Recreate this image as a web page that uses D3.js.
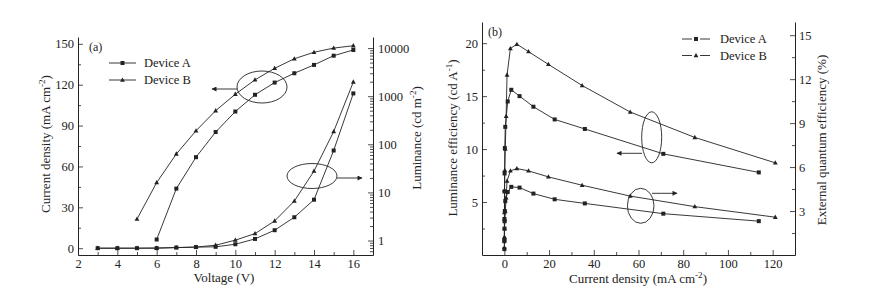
<!DOCTYPE html>
<html>
<head>
<meta charset="utf-8">
<script src="https://cdn.jsdelivr.net/npm/d3@7"></script>
<style>
  body { margin: 0; background: #fff; }
  svg, svg text { font-family: "Liberation Serif", "Times New Roman", serif; }
  .tick text { font-size: 12.5px; fill: #222; font-family: "Liberation Serif", "Times New Roman", serif; }
  .domain, .tick line { stroke: #222; }
</style>
</head>
<body>
<div id="chart"></div>
<script>
// panel (a) data
const voltsJ = [3, 4, 5, 6, 7, 8, 9, 10, 11, 12, 13, 14, 15, 16];
const currentA = [0, 0, 0, 0.05, 0.5, 0.8, 1.0, 2.9, 6.8, 13.2, 22.7, 35.6, 71.7, 113.6];
const currentB = [0, 0, 0, 0.1, 0.4, 0.8, 2.2, 5.9, 10.7, 20.0, 34.6, 56.6, 85.6, 122.0];
const voltsLA = [6, 7, 8, 9, 10, 11, 12, 13, 14, 15, 16];
const lumA = [1.05, 12, 54, 180, 480, 1070, 1920, 3000, 4470, 6950, 9140];
const voltsLB = [5, 6, 7, 8, 9, 10, 11, 12, 13, 14, 15, 16];
const lumB = [2.8, 16, 63, 191, 500, 1100, 2190, 3800, 6000, 8200, 10000, 11200];

// panel (b) data
const effJA = [0.01, 0.03, 0.06, 0.1, 0.2, 0.4, 1.5, 3.1, 6.8, 13.0, 22.5, 36.0, 71.1, 113.8];
const leA = [1.3, 3.4, 6.0, 7.7, 10.1, 12.1, 14.5, 15.6, 15.0, 14.0, 12.8, 11.9, 9.55, 7.8];
const eqeA = [0.4, 1.0, 1.8, 2.3, 3.0, 3.68, 4.3, 4.65, 4.6, 4.19, 3.8, 3.52, 2.82, 2.31];
const effJB = [0.02, 0.05, 0.1, 0.2, 0.4, 0.8, 1.2, 2.7, 5.6, 10.8, 19.7, 34.8, 56.3, 85.2, 121.2];
const leB = [1.7, 4.0, 6.1, 8.0, 10.0, 13.1, 17.0, 19.5, 19.9, 19.2, 18.0, 16.0, 13.5, 11.1, 8.7];
const eqeB = [0.5, 1.2, 1.8, 2.4, 3.0, 3.9, 5.05, 5.74, 5.9, 5.74, 5.33, 4.76, 4.02, 3.3, 2.58];

const seriesNames = ["Device A", "Device B"];
const ticksV = [2, 4, 6, 8, 10, 12, 14, 16];
const ticksJ = [0, 30, 60, 90, 120, 150];
const ticksL = [1, 10, 100, 1000, 10000];
const ticksEffJ = [0, 20, 40, 60, 80, 100, 120];
const ticksLE = [5, 10, 15, 20];
const ticksEQE = [3, 6, 9, 12, 15];

const ink = "#222";
const W = 870, H = 296;

const svg = d3.select("#chart").append("svg")
  .attr("width", W).attr("height", H);

const arrowDefs = svg.append("defs");
arrowDefs.append("marker")
  .attr("id", "head")
  .attr("viewBox", "0 0 10 10")
  .attr("refX", 9).attr("refY", 5)
  .attr("markerWidth", 8).attr("markerHeight", 5)
  .attr("markerUnits", "userSpaceOnUse")
  .attr("orient", "auto")
  .append("path").attr("d", "M0,0 L10,5 L0,10 Z").attr("fill", ink);

function drawMarker(g, shape, x, y) {
  if (shape === "square") {
    g.append("rect").attr("x", x - 2).attr("y", y - 2)
      .attr("width", 4).attr("height", 4).attr("fill", ink);
  } else {
    g.append("path")
      .attr("d", `M${x},${y - 2.6} L${x + 2.4},${y + 1.7} L${x - 2.4},${y + 1.7} Z`)
      .attr("fill", ink);
  }
}

function drawSeries(g, xs, ys, x, y, shape) {
  const pts = xs.map((v, i) => [x(v), y(ys[i])]);
  g.append("path")
    .attr("d", d3.line()(pts))
    .attr("fill", "none").attr("stroke", ink).attr("stroke-width", 0.9);
  pts.forEach(p => drawMarker(g, shape, p[0], p[1]));
}

function axisStyle(sel) {
  sel.attr("font-family", null);
  sel.selectAll(".domain").attr("stroke-width", 1);
  sel.selectAll(".tick line").attr("stroke-width", 0.8);
}

function minorAxis(g, axisFn, scale, values, tx, ty) {
  g.append("g").attr("transform", `translate(${tx},${ty})`)
    .call(axisFn(scale).tickValues(values).tickSize(-3).tickFormat(""))
    .call(s => s.select(".domain").remove())
    .call(axisStyle);
}

function ellipse(g, cx, cy, rx, ry) {
  g.append("ellipse").attr("cx", cx).attr("cy", cy).attr("rx", rx).attr("ry", ry)
    .attr("fill", "none").attr("stroke", ink).attr("stroke-width", 0.9);
}

function arrow(g, x1, y1, x2, y2) {
  g.append("line").attr("x1", x1).attr("y1", y1).attr("x2", x2).attr("y2", y2)
    .attr("stroke", ink).attr("stroke-width", 0.9).attr("marker-end", "url(#head)");
}

// label with superscript: parts = [[text, isSup, backDown], ...]
function richText(g, parts, x, y, rotate, size) {
  const t = g.append("text")
    .attr("transform", `translate(${x},${y})` + (rotate ? " rotate(-90)" : ""))
    .attr("text-anchor", "middle")
    .attr("font-size", size).attr("fill", ink);
  parts.forEach(p => {
    const ts = t.append("tspan").text(p[0]);
    if (p[1]) ts.attr("font-size", size * 0.7).attr("dy", -size * 0.4);
    else if (p[2]) ts.attr("dy", size * 0.4);
  });
  return t;
}

// ---------- panel (a) ----------
const a = { left: 78, right: 373, top: 37, bottom: 255 };
const xa = d3.scaleLinear().domain([2, 17]).range([a.left, a.right]);
const yaJ = d3.scaleLinear().domain([-5, 155]).range([a.bottom, a.top]);
const yaL = d3.scaleLog().domain([0.5, 17000]).range([a.bottom, a.top]);

const ga = svg.append("g");

ga.append("g").attr("transform", `translate(0,${a.bottom})`)
  .call(d3.axisBottom(xa).tickValues(ticksV).tickSize(-5).tickSizeOuter(0).tickPadding(4))
  .call(axisStyle);
minorAxis(ga, d3.axisBottom, xa, d3.range(3, 17, 2), 0, a.bottom);

ga.append("g").attr("transform", `translate(${a.left},0)`)
  .call(d3.axisLeft(yaJ).tickValues(ticksJ).tickSize(-5).tickSizeOuter(0).tickPadding(4))
  .call(axisStyle);
minorAxis(ga, d3.axisLeft, yaJ, d3.range(15, 155, 30), a.left, 0);

ga.append("g").attr("transform", `translate(${a.right},0)`)
  .call(d3.axisRight(yaL).tickValues(ticksL).tickFormat(d3.format("d")).tickSize(-5).tickSizeOuter(0).tickPadding(5))
  .call(axisStyle);
const logMinor = [];
[0.1, 1, 10, 100, 1000, 10000].forEach(dec => {
  for (let k = 2; k <= 9; k++) {
    const v = k * dec;
    if (v >= 0.5 && v <= 17000) logMinor.push(v);
  }
});
minorAxis(ga, d3.axisRight, yaL, logMinor, a.right, 0);

drawSeries(ga, voltsJ, currentA, xa, yaJ, "square");
drawSeries(ga, voltsJ, currentB, xa, yaJ, "triangle");
drawSeries(ga, voltsLA, lumA, xa, yaL, "square");
drawSeries(ga, voltsLB, lumB, xa, yaL, "triangle");

ellipse(ga, 262, 87, 25, 16);
arrow(ga, 237, 89, 212, 89);
ellipse(ga, 312, 176, 25, 12.5);
arrow(ga, 337, 178, 362, 178);

ga.append("text").attr("x", 89).attr("y", 51).attr("font-size", 12).attr("fill", ink).text("(a)");

seriesNames.forEach((name, i) => {
  const ly = 63 + i * 17;
  ga.append("line").attr("x1", 109).attr("x2", 136).attr("y1", ly).attr("y2", ly)
    .attr("stroke", ink).attr("stroke-width", 0.9);
  drawMarker(ga, i === 0 ? "square" : "triangle", 122.5, ly);
  ga.append("text").attr("x", 144).attr("y", ly + 4).attr("font-size", 12.5)
    .attr("fill", ink).text(name);
});

richText(ga, [["Voltage (V)"]], 224, 282, false, 13);
richText(ga, [["Current density (mA cm"], ["-2", true], [")", false, true]], 50, 144, true, 13);
richText(ga, [["Luminance (cd m"], ["-2", true], [")", false, true]], 421, 138, true, 13);

// ---------- panel (b) ----------
const b = { left: 482, right: 795, top: 22, bottom: 255 };
const xb = d3.scaleLinear().domain([-10, 130]).range([b.left, b.right]);
const ybLE = d3.scaleLinear().domain([0, 22]).range([b.bottom, b.top]);
const ybEQE = d3.scaleLinear().domain([0, 15.9]).range([b.bottom, b.top]);

const gb = svg.append("g");

gb.append("g").attr("transform", `translate(0,${b.bottom})`)
  .call(d3.axisBottom(xb).tickValues(ticksEffJ).tickSize(-5).tickSizeOuter(0).tickPadding(4))
  .call(axisStyle);
minorAxis(gb, d3.axisBottom, xb, d3.range(10, 130, 20), 0, b.bottom);

gb.append("g").attr("transform", `translate(${b.left},0)`)
  .call(d3.axisLeft(ybLE).tickValues(ticksLE).tickSize(-5).tickSizeOuter(0).tickPadding(4))
  .call(axisStyle);
minorAxis(gb, d3.axisLeft, ybLE, d3.range(2.5, 22, 5), b.left, 0);

gb.append("g").attr("transform", `translate(${b.right},0)`)
  .call(d3.axisRight(ybEQE).tickValues(ticksEQE).tickSize(-5).tickSizeOuter(0).tickPadding(4))
  .call(axisStyle);
minorAxis(gb, d3.axisRight, ybEQE, d3.range(1.5, 15.9, 3), b.right, 0);

drawSeries(gb, effJA, leA, xb, ybLE, "square");
drawSeries(gb, effJB, leB, xb, ybLE, "triangle");
drawSeries(gb, effJA, eqeA, xb, ybEQE, "square");
drawSeries(gb, effJB, eqeB, xb, ybEQE, "triangle");

ellipse(gb, 651.7, 137.3, 10, 25.5);
arrow(gb, 642, 153.3, 617, 153.3);
ellipse(gb, 640.7, 205.8, 13.3, 17.5);
arrow(gb, 652, 193.3, 677, 193.3);

gb.append("text").attr("x", 488).attr("y", 36).attr("font-size", 12).attr("fill", ink).text("(b)");

seriesNames.forEach((name, i) => {
  const ly = 39 + i * 16.5;
  gb.append("line").attr("x1", 682).attr("x2", 692).attr("y1", ly).attr("y2", ly)
    .attr("stroke", ink).attr("stroke-width", 0.9);
  gb.append("line").attr("x1", 700).attr("x2", 710).attr("y1", ly).attr("y2", ly)
    .attr("stroke", ink).attr("stroke-width", 0.9);
  drawMarker(gb, i === 0 ? "square" : "triangle", 696, ly);
  gb.append("text").attr("x", 720).attr("y", ly + 4).attr("font-size", 12.5)
    .attr("fill", ink).text(name);
});

richText(gb, [["Current density (mA cm"], ["-2", true], [")", false, true]], 638, 283, false, 13);
richText(gb, [["Luminance efficiency (cd A"], ["-1", true], [")", false, true]], 457, 138, true, 13);
richText(gb, [["External quantum efficiency (%)"]], 826, 140, true, 13);
</script>
</body>
</html>
